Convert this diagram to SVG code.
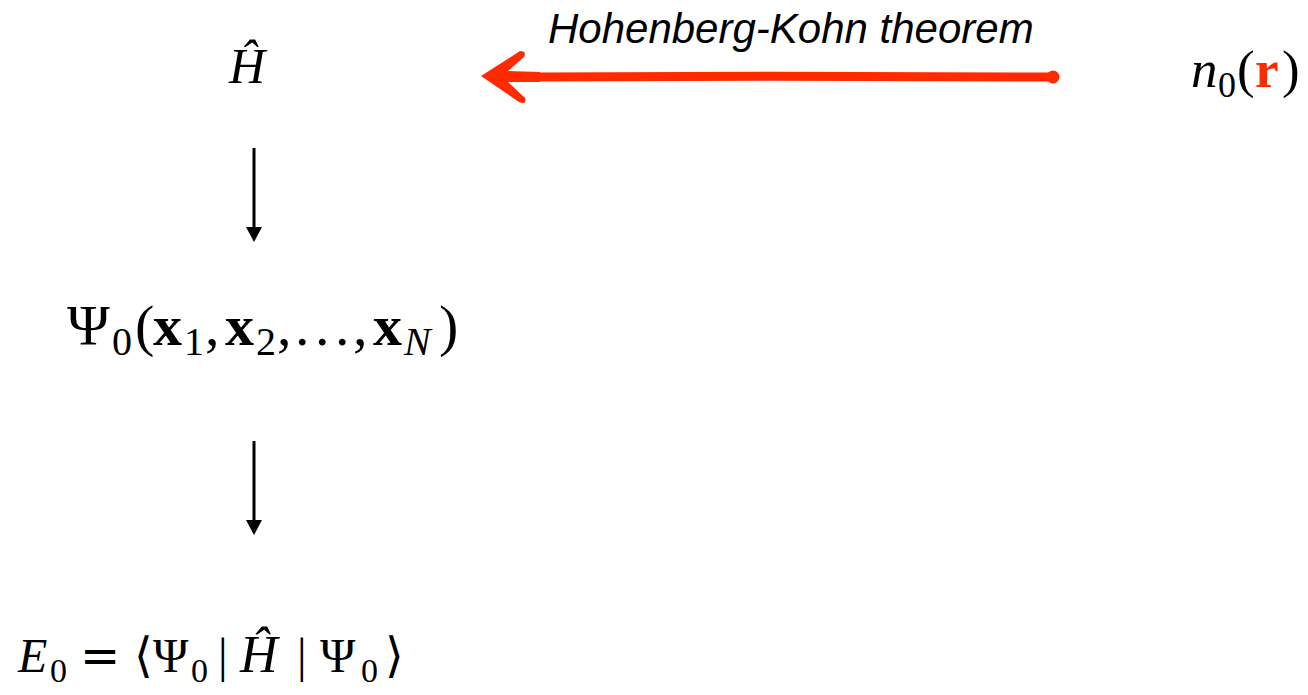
<svg xmlns="http://www.w3.org/2000/svg" width="1308" height="695" viewBox="0 0 1308 695">
<defs>
<style>
.m{font-family:"Liberation Serif","DejaVu Serif",serif;fill:#000}
.i{font-style:italic}
.b{font-weight:bold}
.sym{font-family:"DejaVu Sans",sans-serif}
.lbl{font-family:"Liberation Sans",Arial,sans-serif;font-style:italic;font-size:42px;fill:#000}
.red{fill:#ff2a00}
.conn{stroke:#000;stroke-width:3;fill:none}
</style>
<marker id="ah" viewBox="0 0 15 16" refX="8" refY="8" markerWidth="15" markerHeight="16" markerUnits="userSpaceOnUse" orient="auto">
<path d="M0,0 L15,8 L0,16 Z" fill="#000"/>
</marker>
</defs>
<rect width="1308" height="695" fill="#fff"/>

<g id="node-H">
<text class="m i" x="229" y="83" font-size="50">Ĥ</text>
</g>

<g id="node-density">
<text class="m" y="87" font-size="53"><tspan class="i" x="1191">n</tspan><tspan x="1218" y="97" font-size="36">0</tspan><tspan x="1237" y="87">(</tspan><tspan class="b red" x="1255">r</tspan><tspan x="1282">)</tspan></text>
</g>

<g id="node-psi">
<text class="m" y="345" font-size="58"><tspan x="67">Ψ</tspan><tspan x="112" y="355" font-size="40">0</tspan><tspan x="135" y="345">(</tspan><tspan class="b" x="153">x</tspan><tspan x="184" y="355" font-size="40">1</tspan><tspan x="205" y="345">,</tspan><tspan class="b" x="225">x</tspan><tspan x="256" y="355" font-size="40">2</tspan><tspan x="277" y="345">,</tspan><tspan x="295">.</tspan><tspan x="315">.</tspan><tspan x="335">.</tspan><tspan x="353">,</tspan><tspan class="b" x="373">x</tspan><tspan class="i" x="404" y="355" font-size="40">N</tspan><tspan x="439" y="345">)</tspan></text>
</g>

<g id="node-energy">
<text class="m" y="672" font-size="48"><tspan class="i" x="18">E</tspan><tspan x="50" y="682" font-size="34">0</tspan><tspan class="sym" x="80" y="672">=</tspan><tspan class="sym" x="134">⟨</tspan><tspan x="153">Ψ</tspan><tspan x="191" y="682" font-size="34">0</tspan><tspan x="218" y="672">|</tspan><tspan class="i" x="240" font-size="52">Ĥ</tspan><tspan x="297">|</tspan><tspan x="320">Ψ</tspan><tspan x="361" y="682" font-size="34">0</tspan><tspan class="sym" x="385" y="672">⟩</tspan></text>
</g>

<g id="label-hk">
<text class="lbl" x="548" y="43">Hohenberg-Kohn theorem</text>
</g>

<g id="connectors">
<line class="conn" x1="254" y1="148" x2="254" y2="235" marker-end="url(#ah)"/>
<line class="conn" x1="254" y1="441" x2="254" y2="528" marker-end="url(#ah)"/>
<g id="hk-arrow">
<path d="M1054,77 C900,76 700,76 538,77" stroke="#ff2a00" stroke-width="9" stroke-linecap="round" fill="none"/>
<circle cx="1053" cy="77" r="6.5" class="red"/>
<path class="red" d="M481,76 L520,51 Q527,51 524,57 L508,71 L540,72 L540,82 L508,82 L525,98 Q527,105 519,102 Z"/>
</g>
</g>
</svg>
